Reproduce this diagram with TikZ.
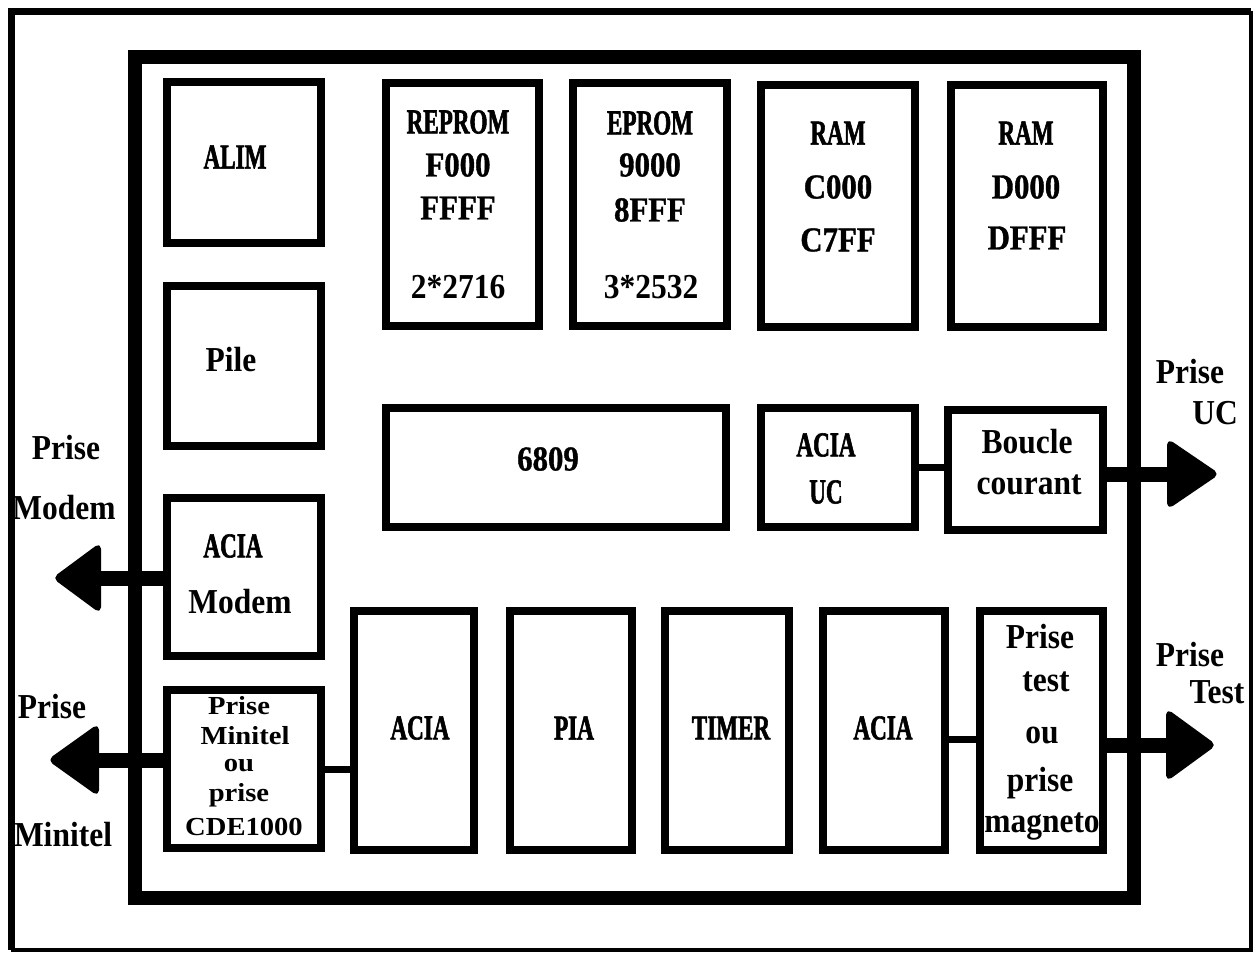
\documentclass[tikz,border=0pt]{standalone}
\usepackage{fontspec}
\setmainfont{Liberation Serif}
\newfontfamily\fAfam[FakeStretch=0.66,FakeBold=1.6]{Liberation Serif}
\newfontfamily\fBfam[FakeStretch=0.88,FakeBold=1]{Liberation Serif}
\newfontfamily\fCfam[FakeStretch=0.9]{Liberation Serif}
\newfontfamily\fDfam[FakeStretch=1.1]{Liberation Serif}
\begin{document}
\begin{tikzpicture}[x=1pt,y=-1pt,
  box/.style={draw, line width=8pt, inner sep=0pt, outer sep=0pt},
  frame/.style={draw, line width=14pt, inner sep=0pt, outer sep=0pt},
  conn/.style={line width=7pt},
  shaft/.style={line width=15pt},
  head/.style={fill=black, draw=black, line width=2pt, rounded corners=5pt, line join=round},
  tA/.style={inner sep=0pt, font=\fAfam\bfseries\fontsize{35}{38}\selectfont},
  tB/.style={inner sep=0pt, font=\fBfam\bfseries\fontsize{35}{38}\selectfont},
  tC/.style={inner sep=0pt, font=\fCfam\bfseries\fontsize{35}{38}\selectfont},
  tD/.style={inner sep=0pt, font=\fDfam\bfseries\fontsize{26}{28}\selectfont}]
\useasboundingbox (0,0) rectangle (1256,953);
% outer frame
\draw[line width=7pt] (11,950) -- (11,11) -- (1251,11);
\draw[line width=4pt] (1251,11) -- (1251,950) -- (11,950);
% board
\node[frame, minimum width=999pt, minimum height=841pt] (board) at (634.5,477.5) {};
% boxes
\node[box, minimum width=154pt, minimum height=161pt] (alim) at (244,162.5) {};
\node[box, minimum width=154pt, minimum height=160pt] (pile) at (244,366) {};
\node[box, minimum width=154pt, minimum height=158pt] (acm) at (244,577) {};
\node[box, minimum width=154pt, minimum height=158pt] (pm) at (244,769) {};
\node[box, minimum width=153pt, minimum height=243pt] (rep) at (462.5,204.5) {};
\node[box, minimum width=154pt, minimum height=243pt] (epr) at (650,204.5) {};
\node[box, minimum width=154pt, minimum height=242pt] (ram1) at (838,206) {};
\node[box, minimum width=152pt, minimum height=242pt] (ram2) at (1027,206) {};
\node[box, minimum width=340pt, minimum height=119pt] (cpu) at (556,467.5) {};
\node[box, minimum width=154pt, minimum height=119pt] (acuc) at (838,467.5) {};
\node[box, minimum width=155pt, minimum height=120pt] (bc) at (1025.5,470) {};
\node[box, minimum width=120pt, minimum height=239pt] (a1) at (414,730.5) {};
\node[box, minimum width=122pt, minimum height=239pt] (pia) at (571,730.5) {};
\node[box, minimum width=124pt, minimum height=239pt] (tim) at (727,730.5) {};
\node[box, minimum width=122pt, minimum height=239pt] (a2) at (884,730.5) {};
\node[box, minimum width=123pt, minimum height=239pt] (pt) at (1041.5,730.5) {};
% connectors
\draw[conn] (acuc.east) -- (acuc.east -| bc.west);
\draw[conn] (pm.east) -- (pm.east -| a1.west);
\draw[conn] ([yshift=-8.5pt]a2.east) -- ([yshift=-8.5pt]a2.east -| pt.west);
% arrows
\coordinate (backMod) at (100,578);  \coordinate (tipMod) at (54,578);
\coordinate (backMin) at (98,760);   \coordinate (tipMin) at (49,760);
\coordinate (backUC) at (1168,474);  \coordinate (tipUC) at (1218,474);
\coordinate (backTest) at (1167,745); \coordinate (tipTest) at (1215,745);
\draw[shaft] (acm.west |- backMod) -- (backMod);
\draw[shaft] (pm.west |- backMin) -- (backMin);
\draw[shaft] (bc.east |- backUC) -- (backUC);
\draw[shaft] (pt.east |- backTest) -- (backTest);
\path[head] (tipMod) -- ([yshift=34pt]backMod) -- ([yshift=-34pt]backMod) -- cycle;
\path[head] (tipMin) -- ([yshift=35pt]backMin) -- ([yshift=-35pt]backMin) -- cycle;
\path[head] (tipUC) -- ([yshift=34pt]backUC) -- ([yshift=-34pt]backUC) -- cycle;
\path[head] (tipTest) -- ([yshift=35pt]backTest) -- ([yshift=-35pt]backTest) -- cycle;
% texts
\node[tA] (tAlim) at (235,157) {ALIM};
\node[tC] (tPile) at (231,360) {Pile};
\node[tA] (tAcm1) at (233,546) {ACIA};
\node[tC] (tAcm2) at (240,602) {Modem};
\node[tD] (tPm1) at (239,706) {Prise};
\node[tD] (tPm2) at (245,736) {Minitel};
\node[tD] (tPm3) at (239,766) {ou};
\node[tD] (tPm4) at (239,795) {prise};
\node[tD] (tPm5) at (244,827) {CDE1000};
\node[tA] (tRep1) at (458,122) {REPROM};
\node[tB] (tRep2) at (458,165) {F000};
\node[tB] (tRep3) at (458,208) {FFFF};
\node[tC] (tRep4) at (458,287) {2*2716};
\node[tA] (tEpr1) at (650,123) {EPROM};
\node[tB] (tEpr2) at (650,165) {9000};
\node[tB] (tEpr3) at (650,210) {8FFF};
\node[tC] (tEpr4) at (651,287) {3*2532};
\node[tA] (tRa1) at (838,133) {RAM};
\node[tB] (tRa2) at (838,187) {C000};
\node[tB] (tRa3) at (838,240) {C7FF};
\node[tA] (tRb1) at (1026,133) {RAM};
\node[tB] (tRb2) at (1026,187) {D000};
\node[tB] (tRb3) at (1027,238) {DFFF};
\node[tB] (tCpu) at (548,459) {6809};
\node[tA] (tUc1) at (826,445) {ACIA};
\node[tA] (tUc2) at (826,492) {UC};
\node[tC] (tBc1) at (1027,442) {Boucle};
\node[tC] (tBc2) at (1029,485) {courant};
\node[tA] (tA1) at (420,728) {ACIA};
\node[tA] (tPia) at (574,728) {PIA};
\node[tA] (tTim) at (731,728) {TIMER};
\node[tA] (tA2) at (883,728) {ACIA};
\node[tC] (tPt1) at (1040,637) {Prise};
\node[tC] (tPt2) at (1046,682) {test};
\node[tC] (tPt3) at (1042,735) {ou};
\node[tC] (tPt4) at (1040,783) {prise};
\node[tC] (tPt5) at (1042,827) {magneto};
\node[tC] (lMod1) at (66,448) {Prise};
\node[tC] (lMod2) at (64,508) {Modem};
\node[tC] (lMin1) at (52,707) {Prise};
\node[tC] (lMin2) at (63,835) {Minitel};
\node[tC] (lUc1) at (1190,372) {Prise};
\node[tC] (lUc2) at (1215,413) {UC};
\node[tC] (lTe1) at (1190,655) {Prise};
\node[tC] (lTe2) at (1217,692) {Test};
\end{tikzpicture}
\end{document}
